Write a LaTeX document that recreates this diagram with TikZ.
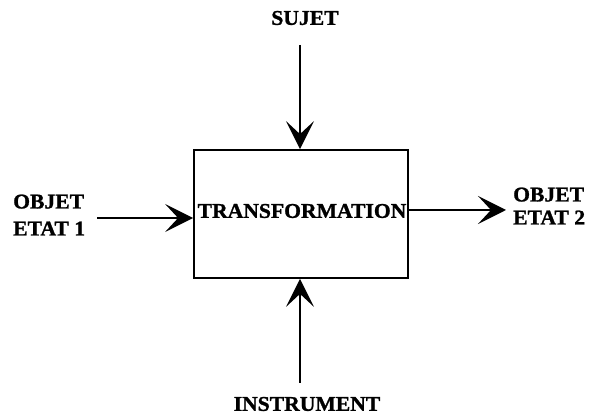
\documentclass[tikz,border=0pt]{standalone}
\usepackage{fontspec}
\setmainfont{Liberation Serif}[FakeStretch=1.03,FakeBold=1.2]
\usetikzlibrary{arrows.meta}
\begin{document}
\begin{tikzpicture}[x=1pt,y=-1pt,
  lbl/.style={font=\bfseries\fontsize{21}{27}\selectfont, inner sep=0pt, align=left},
  arr/.style={line width=2pt, -{Stealth[length=28pt,width=28pt,inset=13pt]}},
  boxst/.style={draw, line width=1.8pt, minimum width=214pt, minimum height=128pt, inner sep=0pt,
    font=\bfseries\fontsize{21}{24}\selectfont}]
\useasboundingbox (0,0) rectangle (590,414);
\node[boxst] (box) at (301,214) {};
\node[font=\bfseries\fontsize{21}{24}\selectfont, inner sep=0pt] (tr) at (302,211) {TRANSFORMATION};
\node[lbl] (sujet) at (305,18) {SUJET};
\node[lbl] (instr) at (307,404) {INSTRUMENT};
\node[lbl, anchor=west] (obj1) at (13,215) {OBJET\\ETAT 1};
\node[lbl, anchor=west, font=\bfseries\fontsize{21}{23}\selectfont] (obj2) at (513,206) {OBJET\\ETAT 2};
\coordinate (topin) at (300,45);
\coordinate (botin) at (300,383);
\coordinate (leftin) at (97,218);
\coordinate (rightout) at (506,210);
\draw[arr] (topin) -- (topin |- box.north);
\draw[arr] (botin) -- (botin |- box.south);
\draw[arr] (leftin) -- (leftin -| box.west);
\draw[arr] (rightout -| box.east) -- (rightout);
\end{tikzpicture}
\end{document}
